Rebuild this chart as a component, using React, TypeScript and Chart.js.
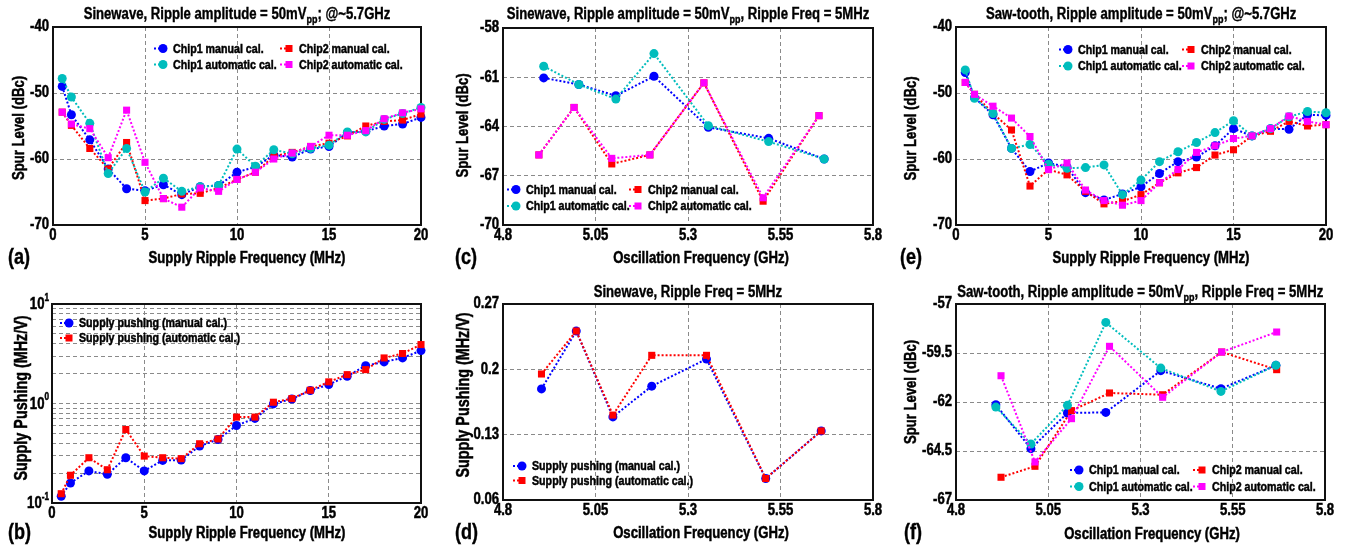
import React, { useEffect, useRef } from 'react';
import { Chart, registerables } from 'chart.js';
Chart.register(...registerables);

const FONT = "'Liberation Sans', Arial, sans-serif";
const SX = 0.82; // horizontal condensing to mimic a narrow bold face

// ---------- data ----------
const freqMHz = [0.5, 1, 2, 3, 4, 5, 6, 7, 8, 9, 10, 11, 12, 13, 14, 15, 16, 17, 18, 19, 20];

// (a) sinewave, spur vs ripple freq
const aChip1Manual = [-49, -53.3, -57.1, -61.5, -64.5, -64.8, -63.9, -65.4, -64.2, -64, -62, -61.2, -59.4, -59.7, -58.5, -58.1, -56, -55.8, -55, -54.7, -53.7];
const aChip2Manual = [-52.9, -54.9, -58.4, -61.5, -57.5, -66.3, -66, -65.3, -65.2, -64.4, -63.1, -62, -59.6, -59, -58.1, -57.6, -56.5, -55, -54.3, -54.1, -53.2];
const aChip1Auto = [-47.8, -50.6, -54.6, -62.2, -58.4, -65, -62.9, -64.9, -64.2, -64, -58.5, -61.1, -58.6, -59.2, -58.4, -57.9, -55.9, -55.9, -54, -53.1, -52.2];
const aChip2Auto = [-52.9, -54.7, -55.4, -59.8, -52.6, -60.5, -66, -67.3, -64.4, -64.9, -63.1, -62, -60, -59.1, -58.1, -56.4, -56.4, -55.7, -53.9, -53, -52.4];

// (b) supply pushing vs ripple freq
const bManual = [0.117, 0.159, 0.21, 0.194, 0.285, 0.21, 0.268, 0.27, 0.373, 0.435, 0.601, 0.708, 0.99, 1.11, 1.35, 1.55, 1.88, 2.4, 2.62, 2.87, 3.4];
const bAuto = [0.124, 0.19, 0.285, 0.216, 0.548, 0.296, 0.285, 0.279, 0.394, 0.44, 0.73, 0.73, 1.03, 1.12, 1.36, 1.65, 1.95, 2.19, 2.87, 3.18, 3.91];

// (c) sinewave, spur vs oscillation freq
const cChip1X = [4.91, 5.005, 5.105, 5.208, 5.355, 5.518, 5.668];
const cChip2X = [4.897, 4.992, 5.094, 5.197, 5.343, 5.503, 5.654];
const cChip1Manual = [-61.04, -61.44, -62.13, -60.94, -64.05, -64.72, -65.98];
const cChip1Auto = [-60.33, -61.44, -62.33, -59.56, -63.95, -64.92, -65.98];
const cChip2Manual = [-65.73, -62.84, -66.28, -65.73, -61.34, -68.55, -63.34];
const cChip2Auto = [-65.73, -62.84, -65.94, -65.73, -61.34, -68.34, -63.34];

// (d) supply pushing vs oscillation freq
const dX = [4.904, 4.998, 5.097, 5.202, 5.35, 5.51, 5.66];
const dManual = [0.179, 0.241, 0.149, 0.182, 0.211, 0.083, 0.134];
const dAuto = [0.195, 0.241, 0.151, 0.215, 0.215, 0.083, 0.134];

// (e) saw-tooth, spur vs ripple freq
const eChip1Manual = [-46.9, -50.7, -53.3, -58.4, -61.9, -60.6, -61.2, -65.1, -66.2, -65.3, -64.2, -62.2, -60.4, -59.7, -58, -55.4, -56.5, -55.4, -55.5, -53.3, -53.4];
const eChip2Manual = [-48.4, -50.2, -53.1, -55.6, -64.1, -61.6, -62.4, -64.9, -66.8, -66.4, -65.4, -63.6, -62.1, -61.3, -59.4, -58.6, -56.5, -55.8, -54.3, -55, -54.8];
const eChip1Auto = [-46.5, -50.8, -53.1, -58.4, -57.8, -60.8, -61.4, -61.3, -60.9, -65.4, -63.2, -60.4, -58.9, -57.5, -56, -54.2, -56.5, -55.4, -53.6, -52.8, -53];
const eChip2Auto = [-48.4, -50.2, -52, -53.8, -56.6, -61.6, -60.6, -64.7, -66.3, -67, -66.3, -63.6, -61.6, -59, -58, -56.9, -56.5, -55.4, -53.5, -54.3, -54.8];

// (f) saw-tooth, spur vs oscillation freq
const fChip1X = [4.908, 5.003, 5.102, 5.206, 5.355, 5.518, 5.667];
const fChip2X = [4.922, 5.014, 5.113, 5.216, 5.36, 5.52, 5.669];
const fChip1Manual = [-62.14, -64.38, -62.56, -62.53, -60.4, -61.32, -60.13];
const fChip1Auto = [-62.26, -64.14, -62.17, -57.94, -60.27, -61.46, -60.13];
const fChip2Manual = [-65.84, -65.28, -62.44, -61.54, -61.63, -59.45, -60.35];
const fChip2Auto = [-60.66, -65.06, -62.85, -59.16, -61.76, -59.45, -58.43];

// tick values
const ticksRipple = [0, 5, 10, 15, 20];
const ticksOsc = [4.8, 5.05, 5.3, 5.55, 5.8];
const ticksSpurA = [-70, -60, -50, -40];
const ticksSpurC = [-70, -67, -64, -61, -58];
const ticksSpurF = [-67, -64.5, -62, -59.5, -57];
const ticksPushD = [0.06, 0.13, 0.2, 0.27];
const ticksPushB = [0.1, 0.2, 0.3, 0.4, 0.5, 0.6, 0.7, 0.8, 0.9, 1, 2, 3, 4, 5, 6, 7, 8, 9, 10];
const logMajor = [0.1, 1, 10];
const logExp = ['-1', '0', '1'];

const BLUE = '#0000ff';
const RED = '#ff0000';
const CYAN = '#00bdbd';
const MAGENTA = '#ff00ff';

// ---------- helpers ----------
function series(label: string, xs: number[], ys: number[], color: string, style: string, order: number) {
  return {
    label,
    data: xs.map((x, i) => ({ x, y: ys[i] })),
    borderColor: color,
    backgroundColor: color,
    showLine: true,
    borderDash: [2, 2],
    borderWidth: 2,
    pointStyle: style,
    pointRadius: style === 'circle' ? 4.5 : 5,
    pointBorderWidth: 0,
    pointHoverRadius: style === 'circle' ? 4.5 : 5,
    clip: false,
    order,
    tension: 0,
  };
}

const framePlugin = {
  id: 'frame',
  beforeDatasetsDraw(chart: any) {
    const { ctx, chartArea: a } = chart;
    ctx.save();
    ctx.strokeStyle = '#111';
    ctx.lineWidth = 2;
    ctx.setLineDash([]);
    ctx.strokeRect(a.left, a.top, a.right - a.left, a.bottom - a.top);
    ctx.restore();
  },
};

const axisTitlePlugin = {
  id: 'axisTitles',
  afterDraw(chart: any, _args: any, o: any) {
    if (!o || !o.x) return;
    const ctx = chart.ctx;
    ctx.save();
    ctx.fillStyle = '#000';
    ctx.textAlign = 'center';
    ctx.textBaseline = 'middle';
    ctx.font = `bold 16px ${FONT}`;
    ctx.fillText(o.x.text, o.x.cx, o.x.cy);
    ctx.font = `bold ${o.y.size}px ${FONT}`;
    ctx.translate(o.y.cx, o.y.cy);
    ctx.rotate(-Math.PI / 2);
    ctx.fillText(o.y.text, 0, 0);
    ctx.restore();
  },
};

const boxLegendPlugin = {
  id: 'boxLegend',
  afterDatasetsDraw(chart: any, _args: any, opts: any) {
    if (!opts || !opts.cols) return;
    const { ctx, chartArea: a } = chart;
    const ds = chart.data.datasets;
    ctx.save();
    ds.forEach((d: any, i: number) => {
      const col = i % opts.cols;
      const row = Math.floor(i / opts.cols);
      const mx = a.left + opts.x + col * opts.colGap;
      const my = a.top + opts.y + row * opts.rowGap;
      ctx.strokeStyle = d.borderColor;
      ctx.lineWidth = 2;
      ctx.setLineDash([2, 2]);
      ctx.beginPath();
      ctx.moveTo(mx - 9, my);
      ctx.lineTo(mx, my);
      ctx.stroke();
      ctx.setLineDash([]);
      ctx.fillStyle = d.borderColor;
      if (d.pointStyle === 'circle') {
        ctx.beginPath();
        ctx.arc(mx, my, 4.5, 0, Math.PI * 2);
        ctx.fill();
      } else {
        ctx.fillRect(mx - 3.5, my - 3.5, 7, 7);
      }
      ctx.fillStyle = '#000';
      ctx.font = `bold 13px ${FONT}`;
      ctx.textAlign = 'left';
      ctx.textBaseline = 'middle';
      ctx.fillText(d.label, mx + 10, my + 0.5);
    });
    ctx.restore();
  },
};

const logLabelPlugin = {
  id: 'logLabels',
  afterDraw(chart: any, _args: any, opts: any) {
    if (!opts || !opts.values) return;
    const s = chart.scales.y;
    const ctx = chart.ctx;
    ctx.save();
    ctx.fillStyle = '#000';
    ctx.textBaseline = 'middle';
    opts.values.forEach((v: number, i: number) => {
      const y = s.getPixelForValue(v);
      const exp = opts.exps[i];
      ctx.font = `bold 10px ${FONT}`;
      ctx.textAlign = 'left';
      const ew = ctx.measureText(exp).width;
      const right = s.right - 3;
      ctx.fillText(exp, right - ew, y - 6);
      ctx.font = `bold 16px ${FONT}`;
      ctx.textAlign = 'right';
      ctx.fillText('10', right - ew, y + 1);
    });
    ctx.restore();
  },
};

type Panel = {
  id: string;
  box: [number, number, number, number];
  area: { left: number; top: number; right: number; bottom: number };
  xTicks: number[];
  yTicks: number[];
  yLog?: boolean;
  xTitle: string;
  yTitle: string;
  yTitleSize: number;
  xTitlePos: [number, number];
  yTitlePos: [number, number];
  datasets: any[];
  legend: { x: number; y: number; cols: number; colGap: number; rowGap: number };
  title?: React.ReactNode;
  titleY?: number;
  label: string;
  labelPos: [number, number];
};

const sub = (t: string) => (
  <span style={{ fontSize: 11, position: 'relative', top: 4 }}>{t}</span>
);

const PANELS: Panel[] = [
  {
    id: 'a',
    box: [0, 0, 449, 275],
    area: { left: 53, top: 27, right: 421, bottom: 225 },
    xTicks: ticksRipple,
    yTicks: ticksSpurA,
    xTitle: 'Supply Ripple Frequency (MHz)',
    yTitle: 'Spur Level (dBc)',
    yTitleSize: 16,
    xTitlePos: [247, 258.5],
    yTitlePos: [20, 128],
    datasets: [
      series('Chip1 manual cal.', freqMHz, aChip1Manual, BLUE, 'circle', 4),
      series('Chip2 manual cal.', freqMHz, aChip2Manual, RED, 'rect', 3),
      series('Chip1 automatic cal.', freqMHz, aChip1Auto, CYAN, 'circle', 2),
      series('Chip2 automatic cal.', freqMHz, aChip2Auto, MAGENTA, 'rect', 1),
    ],
    legend: { x: 110, y: 21.5, cols: 2, colGap: 126, rowGap: 16 },
    title: <>Sinewave, Ripple amplitude = 50mV{sub('pp')}; @~5.7GHz</>,
    titleY: 13.5,
    label: '(a)',
    labelPos: [8, 257],
  },
  {
    id: 'c',
    box: [449, 0, 449, 275],
    area: { left: 503, top: 28, right: 873, bottom: 225 },
    xTicks: ticksOsc,
    yTicks: ticksSpurC,
    xTitle: 'Oscillation Frequency (GHz)',
    yTitle: 'Spur Level (dBc)',
    yTitleSize: 16,
    xTitlePos: [701, 258.5],
    yTitlePos: [463.5, 125.5],
    datasets: [
      series('Chip1 manual cal.', cChip1X, cChip1Manual, BLUE, 'circle', 4),
      series('Chip2 manual cal.', cChip2X, cChip2Manual, RED, 'rect', 3),
      series('Chip1 automatic cal.', cChip1X, cChip1Auto, CYAN, 'circle', 2),
      series('Chip2 automatic cal.', cChip2X, cChip2Auto, MAGENTA, 'rect', 1),
    ],
    legend: { x: 13, y: 161.5, cols: 2, colGap: 122, rowGap: 16.5 },
    title: <>Sinewave, Ripple amplitude = 50mV{sub('pp')}, Ripple Freq = 5MHz</>,
    titleY: 13.5,
    label: '(c)',
    labelPos: [455, 257],
  },
  {
    id: 'e',
    box: [898, 0, 450, 275],
    area: { left: 956, top: 27, right: 1326, bottom: 225 },
    xTicks: ticksRipple,
    yTicks: ticksSpurA,
    xTitle: 'Supply Ripple Frequency (MHz)',
    yTitle: 'Spur Level (dBc)',
    yTitleSize: 16,
    xTitlePos: [1151, 258.5],
    yTitlePos: [911.5, 128.5],
    datasets: [
      series('Chip1 manual cal.', freqMHz, eChip1Manual, BLUE, 'circle', 4),
      series('Chip2 manual cal.', freqMHz, eChip2Manual, RED, 'rect', 3),
      series('Chip1 automatic cal.', freqMHz, eChip1Auto, CYAN, 'circle', 2),
      series('Chip2 automatic cal.', freqMHz, eChip2Auto, MAGENTA, 'rect', 1),
    ],
    legend: { x: 112, y: 22.5, cols: 2, colGap: 123, rowGap: 16.5 },
    title: <>Saw-tooth, Ripple amplitude = 50mV{sub('pp')}; @~5.7GHz</>,
    titleY: 13.5,
    label: '(e)',
    labelPos: [900, 257],
  },
  {
    id: 'b',
    box: [0, 275, 449, 275],
    area: { left: 52, top: 304, right: 421, bottom: 503 },
    xTicks: ticksRipple,
    yTicks: ticksPushB,
    yLog: true,
    xTitle: 'Supply Ripple Frequency (MHz)',
    yTitle: 'Supply Pushing (MHz/V)',
    yTitleSize: 17.5,
    xTitlePos: [247, 534],
    yTitlePos: [22, 398],
    datasets: [
      series('Supply pushing (manual cal.)', freqMHz, bManual, BLUE, 'circle', 2),
      series('Supply pushing (automatic cal.)', freqMHz, bAuto, RED, 'rect', 1),
    ],
    legend: { x: 17, y: 19, cols: 1, colGap: 0, rowGap: 15 },
    label: '(b)',
    labelPos: [8, 532],
  },
  {
    id: 'd',
    box: [449, 275, 449, 275],
    area: { left: 503, top: 304, right: 873, bottom: 500 },
    xTicks: ticksOsc,
    yTicks: ticksPushD,
    xTitle: 'Oscillation Frequency (GHz)',
    yTitle: 'Supply Pushing (MHz/V)',
    yTitleSize: 17.5,
    xTitlePos: [701, 534],
    yTitlePos: [464, 395],
    datasets: [
      series('Supply pushing (manual cal.)', dX, dManual, BLUE, 'circle', 2),
      series('Supply pushing (automatic cal.)', dX, dAuto, RED, 'rect', 1),
    ],
    legend: { x: 19, y: 162, cols: 1, colGap: 0, rowGap: 14.5 },
    title: <>Sinewave, Ripple Freq = 5MHz</>,
    titleY: 292,
    label: '(d)',
    labelPos: [455, 532],
  },
  {
    id: 'f',
    box: [898, 275, 450, 275],
    area: { left: 956, top: 304, right: 1325, bottom: 500 },
    xTicks: ticksOsc,
    yTicks: ticksSpurF,
    xTitle: 'Oscillation Frequency (GHz)',
    yTitle: 'Spur Level (dBc)',
    yTitleSize: 16,
    xTitlePos: [1152, 535],
    yTitlePos: [911.5, 392],
    datasets: [
      series('Chip1 manual cal.', fChip1X, fChip1Manual, BLUE, 'circle', 4),
      series('Chip2 manual cal.', fChip2X, fChip2Manual, RED, 'rect', 3),
      series('Chip1 automatic cal.', fChip1X, fChip1Auto, CYAN, 'circle', 2),
      series('Chip2 automatic cal.', fChip2X, fChip2Auto, MAGENTA, 'rect', 1),
    ],
    legend: { x: 123, y: 166, cols: 2, colGap: 123, rowGap: 16.5 },
    title: <>Saw-tooth, Ripple amplitude = 50mV{sub('pp')}, Ripple Freq = 5MHz</>,
    titleY: 292,
    label: '(f)',
    labelPos: [904, 532],
  },
];

// condense every text drawn on this canvas horizontally (narrow bold look)
function condenseText(ctx: any) {
  if (ctx.__condensed) return;
  ctx.__condensed = true;
  const origFill = ctx.fillText.bind(ctx);
  const origStroke = ctx.strokeText.bind(ctx);
  const origMeasure = ctx.measureText.bind(ctx);
  ctx.fillText = (text: string, x: number, y: number) => {
    ctx.save();
    ctx.translate(x, y);
    ctx.scale(SX, 1);
    origFill(text, 0, 0);
    ctx.strokeStyle = ctx.fillStyle;
    ctx.lineWidth = 0.5;
    ctx.setLineDash([]);
    origStroke(text, 0, 0);
    ctx.restore();
  };
  ctx.measureText = (text: string) => {
    const m = origMeasure(text);
    return {
      width: m.width * SX,
      actualBoundingBoxAscent: m.actualBoundingBoxAscent,
      actualBoundingBoxDescent: m.actualBoundingBoxDescent,
      actualBoundingBoxLeft: m.actualBoundingBoxLeft * SX,
      actualBoundingBoxRight: m.actualBoundingBoxRight * SX,
    };
  };
}

function makeChart(canvas: HTMLCanvasElement, p: Panel) {
  const [L, T, W, H] = p.box;
  const wy = p.area.left - L;
  const pt = p.area.top - T;
  const pr = L + W - p.area.right;
  const hx = T + H - p.area.bottom;
  const xMin = p.xTicks[0];
  const xMax = p.xTicks[p.xTicks.length - 1];
  const yMin = p.yTicks[0];
  const yMax = p.yTicks[p.yTicks.length - 1];
  condenseText(canvas.getContext('2d'));
  const gridColor = (lo: number, hi: number) => (c: any) => {
    const v = c.tick ? c.tick.value : NaN;
    return v > lo + 1e-9 && v < hi - 1e-9 ? '#8a8a8a' : 'rgba(0,0,0,0)';
  };
  const tickFont = { family: FONT, size: 16, weight: 'bold' as const };
  return new Chart(canvas, {
    type: 'scatter',
    data: { datasets: p.datasets },
    options: {
      responsive: false,
      maintainAspectRatio: false,
      animation: false,
      layout: { padding: { left: 0, top: pt, right: pr, bottom: 0 } },
      events: [],
      plugins: {
        legend: { display: false },
        tooltip: { enabled: false },
        boxLegend: p.legend,
        logLabels: p.yLog ? { values: logMajor, exps: logExp } : {},
        axisTitles: {
          x: { text: p.xTitle, cx: p.xTitlePos[0] - L, cy: p.xTitlePos[1] - T },
          y: { text: p.yTitle, cx: p.yTitlePos[0] - L, cy: p.yTitlePos[1] - T, size: p.yTitleSize },
        },
      } as any,
      scales: {
        x: {
          type: 'linear',
          min: xMin,
          max: xMax,
          afterBuildTicks: (s: any) => {
            s.ticks = p.xTicks.map((v) => ({ value: v }));
          },
          afterFit: (s: any) => {
            s.height = hx;
            s.paddingLeft = 0;
            s.paddingRight = 0;
          },
          ticks: {
            font: tickFont,
            color: '#000',
            padding: 1,
            maxRotation: 0,
            autoSkip: false,
            callback: (v: any) => String(Math.round(Number(v) * 1000) / 1000),
          },
          grid: { color: gridColor(xMin, xMax), lineWidth: 1, drawTicks: false },
          border: { display: false, dash: [4, 3] },
          title: { display: false },
        },
        y: {
          type: p.yLog ? 'logarithmic' : 'linear',
          min: yMin,
          max: yMax,
          afterBuildTicks: (s: any) => {
            s.ticks = p.yTicks.map((v) => ({ value: v, major: logMajor.includes(v) }));
          },
          afterFit: (s: any) => {
            s.width = wy;
            s.paddingTop = 0;
            s.paddingBottom = 0;
          },
          ticks: {
            display: !p.yLog,
            font: tickFont,
            color: '#000',
            padding: 4,
            autoSkip: false,
            callback: (v: any) => String(Math.round(Number(v) * 1000) / 1000),
          },
          grid: { color: gridColor(yMin, yMax), lineWidth: 1, drawTicks: false },
          border: { display: false, dash: [4, 3] },
          title: { display: false },
        },
      } as any,
    },
    plugins: [framePlugin, boxLegendPlugin, logLabelPlugin, axisTitlePlugin],
  } as any);
}

export default function App() {
  const refs = useRef<(HTMLCanvasElement | null)[]>([]);
  useEffect(() => {
    const charts = PANELS.map((p, i) => makeChart(refs.current[i] as HTMLCanvasElement, p));
    return () => charts.forEach((c) => c.destroy());
  }, []);
  return (
    <div
      style={{
        position: 'absolute',
        left: 0,
        top: 0,
        width: 1348,
        height: 550,
        background: '#fff',
        fontFamily: FONT,
        fontWeight: 'bold',
        color: '#000',
        overflow: 'hidden',
        WebkitTextStroke: '0.4px #000',
      }}
    >
      {PANELS.map((p, i) => (
        <canvas
          key={p.id}
          ref={(el) => {
            refs.current[i] = el;
          }}
          width={p.box[2]}
          height={p.box[3]}
          style={{ position: 'absolute', left: p.box[0], top: p.box[1], width: p.box[2], height: p.box[3] }}
        />
      ))}
      {PANELS.filter((p) => p.title).map((p) => (
        <div
          key={'t' + p.id}
          style={{
            position: 'absolute',
            left: p.area.left - 60,
            width: p.area.right - p.area.left + 120,
            top: (p.titleY as number) - 10,
            height: 20,
            lineHeight: '20px',
            fontSize: 16,
            textAlign: 'center',
            whiteSpace: 'nowrap',
          }}
        >
          <span style={{ display: 'inline-block', transform: `scaleX(${SX})`, transformOrigin: '50% 50%' }}>
            {p.title}
          </span>
        </div>
      ))}
      {PANELS.map((p) => (
        <div
          key={'l' + p.id}
          style={{
            position: 'absolute',
            left: p.labelPos[0],
            top: p.labelPos[1] - 13,
            height: 26,
            lineHeight: '26px',
            fontSize: 22,
            transform: `scaleX(${SX})`,
            transformOrigin: '0 50%',
          }}
        >
          {p.label}
        </div>
      ))}
    </div>
  );
}
